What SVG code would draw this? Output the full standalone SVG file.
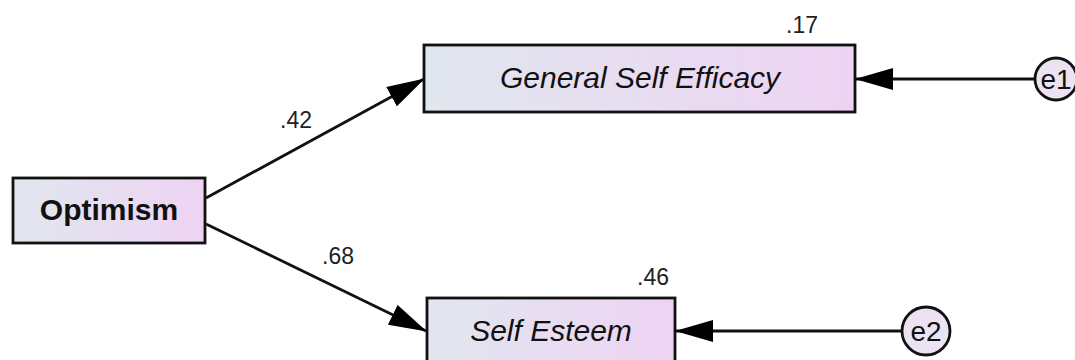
<svg xmlns="http://www.w3.org/2000/svg" width="1075" height="360" viewBox="0 0 1075 360">
  <defs>
    <linearGradient id="fillG" x1="0" y1="0" x2="1" y2="0">
      <stop offset="0" stop-color="#e1e7ef"/>
      <stop offset="1" stop-color="#eed3f3"/>
    </linearGradient>
    <marker id="arr" markerUnits="userSpaceOnUse" viewBox="0 0 38 22" markerWidth="38" markerHeight="22" refX="37" refY="11" orient="auto">
      <path d="M0,0 L38,11 L0,22 z" fill="#000"/>
    </marker>
    <style>
      .box { fill: url(#fillG); stroke: #111; stroke-width: 2.8; }
      .circ { fill: #ece3f2; stroke: #111; stroke-width: 2.8; }
      .lbl { font-family: "Liberation Sans", Arial, sans-serif; font-size: 30px; fill: #111; text-anchor: middle; }
      .el { font-size: 28px; }
      .it { font-style: italic; }
      .bd { font-weight: bold; }
      .num { font-family: "Liberation Sans", Arial, sans-serif; font-size: 23px; fill: #222; text-anchor: middle; }
      .edge { stroke: #111; stroke-width: 2.8; fill: none; marker-end: url(#arr); }
    </style>
  </defs>

  <g id="connectors">
    <line class="edge" x1="206" y1="198" x2="424" y2="79"/>
    <line class="edge" x1="206" y1="224" x2="426" y2="331"/>
    <line class="edge" x1="1035" y1="79" x2="856" y2="79"/>
    <line class="edge" x1="902" y1="331" x2="676" y2="331"/>
    <text class="num" x="296" y="128">.42</text>
    <text class="num" x="338" y="264">.68</text>
  </g>

  <g id="optimism">
    <rect class="box" x="13" y="178" width="192" height="65"/>
    <text class="lbl bd" x="109" y="220">Optimism</text>
  </g>

  <g id="gse">
    <rect class="box" x="424" y="45" width="431" height="67"/>
    <text class="lbl it" x="640" y="88">General Self Efficacy</text>
    <text class="num" x="802" y="33">.17</text>
  </g>

  <g id="se">
    <rect class="box" x="427" y="298" width="248" height="67"/>
    <text class="lbl it" x="551" y="341">Self Esteem</text>
    <text class="num" x="653" y="285">.46</text>
  </g>

  <g id="e1">
    <circle class="circ" cx="1056" cy="79" r="21"/>
    <text class="lbl el" x="1056" y="89">e1</text>
  </g>

  <g id="e2">
    <circle class="circ" cx="926" cy="331" r="24"/>
    <text class="lbl el" x="926" y="341">e2</text>
  </g>
</svg>
